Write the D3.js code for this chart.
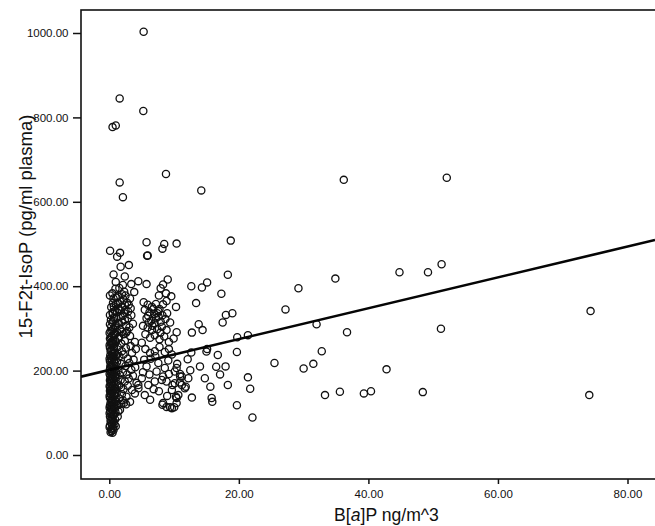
<!DOCTYPE html>
<meta charset="utf-8">
<title>B[a]P vs 15-F2t-IsoP</title>
<style>
    body {
        margin: 0;
        background: #fff;
    }

    svg {
        display: block;
        font-family: "Liberation Sans", Arial, sans-serif;
    }

    circle.pt {
        fill: none;
        stroke: #111;
        stroke-width: 1.3px;
    }

    .axis text {
        fill: #111;
        font-size: 11.5px;
    }

    .axis line {
        stroke: #111;
        stroke-width: 1.5px;
    }

    .title {
        fill: #111;
    }
</style>

<body>
    <svg width="655" height="526"></svg>

    <script src="https://d3js.org/d3.v7.min.js"></script>
    <script>
        // tick values
        const xTicks = [0, 20, 40, 60, 80];
        const yTicks = [0, 200, 400, 600, 800, 1000];

        // fitted regression line
        const fitIntercept = 201.5;
        const fitSlope = 3.656;

        // [B[a]P, 15-F2t-IsoP] pairs
        const outlierPts = [[5.3, 1003], [1.6, 845], [5.25, 815], [0.5, 777], [1.0, 781], [8.75, 666], [1.6, 646],
            [2.1, 611], [14.2, 627], [36.2, 652], [52.1, 657]];

        const farPts = [[29.2, 395], [27.2, 345], [34.9, 418], [44.8, 433], [49.2, 433], [51.3, 452], [74.3, 341],
            [51.2, 299], [32.0, 310], [36.7, 291], [25.5, 218], [30.0, 205], [31.5, 216], [32.8, 246], [42.8, 203],
            [33.3, 142], [35.6, 150], [39.3, 146], [40.4, 151], [48.4, 149], [74.1, 142]];

        const sparsePts = [[18.75, 508], [15.1, 409], [14.3, 397], [18.3, 427], [17.3, 382], [18.0, 332], [19.0, 336],
            [17.5, 314], [13.8, 310], [14.4, 296], [12.75, 290], [10.4, 291], [19.75, 279], [21.4, 284], [15.1, 251],
            [15.0, 245], [19.7, 244], [16.75, 237], [14.0, 210], [16.5, 209], [17.95, 210], [17.1, 191], [14.75, 182],
            [15.6, 162], [18.3, 166], [21.4, 184], [21.75, 157], [15.8, 135], [15.9, 126], [19.7, 118], [22.1, 89],
            [12.75, 136], [10.9, 172], [11.8, 162], [10.4, 135], [12.66, 400], [13.4, 360], [12.66, 243], [12.1, 227],
            [12.5, 201], [12.2, 182]];

        const clusterPts = [[5.75, 504], [8.48, 500], [8.2, 489], [10.39, 501], [5.84, 472], [5.93, 473], [8.3, 404],
            [9.02, 416], [7.93, 395], [8.75, 383], [9.57, 376], [8.84, 365], [8.3, 357], [10.3, 351], [7.66, 378],
            [5.3, 362], [5.93, 356], [6.57, 351], [7.2, 358], [7.75, 346], [5.48, 344], [6.2, 338], [6.93, 334],
            [7.57, 341], [8.2, 331], [8.93, 336], [5.75, 324], [6.48, 318], [7.2, 324], [7.93, 316], [8.66, 322],
            [9.39, 314], [5.2, 306], [5.93, 302], [6.66, 306], [7.39, 298], [8.11, 304], [8.84, 296], [5.02, 266],
            [5.57, 286], [6.3, 278], [7.02, 284], [7.75, 274], [8.48, 281], [9.2, 268], [9.93, 276], [6.3, 242],
            [7.02, 246], [9.66, 238], [5.57, 251], [7.75, 256], [8.57, 244], [9.2, 251], [5.75, 210], [7.57, 218],
            [8.57, 206], [10.11, 198], [10.93, 186], [6.39, 228], [7.11, 234], [9.11, 224], [10.48, 216], [5.2, 196],
            [6.2, 191], [7.3, 198], [8.3, 186], [9.2, 192], [4.48, 166], [6.02, 166], [7.02, 174], [8.11, 178],
            [10.11, 170], [11.2, 166], [11.66, 158], [9.66, 154], [10.66, 142], [8.3, 123], [8.84, 114], [9.66, 111],
            [10.39, 123], [6.3, 131], [8.93, 140], [10.3, 138], [8.2, 119], [9.39, 113], [10.02, 113], [5.48, 142],
            [8.84, 174], [9.75, 166], [10.93, 192], [11.2, 186], [10.39, 206], [5.02, 182], [6.84, 156], [7.66, 151],
            [5.39, 226], [6.0, 330], [6.8, 346], [7.4, 336], [6.1, 314], [7.0, 312], [7.6, 328], [6.6, 296], [7.9, 290]];

        const upperPts = [[0.66, 428], [2.39, 423], [3.39, 405], [4.48, 412], [5.75, 405], [1.75, 446], [3.02, 450],
            [0.12, 484], [1.66, 479], [1.21, 470], [0.48, 383], [0.3, 350], [0.57, 360], [0.39, 268], [1.0, 410]];

        const cloudPts = [[1.0, 268], [1.4, 276], [1.85, 264], [2.4, 271], [1.2, 291], [1.65, 298], [2.2, 286],
            [2.75, 294], [3.2, 282], [0.95, 306], [1.5, 311], [2.0, 316], [2.6, 306], [3.1, 302], [3.65, 311],
            [1.1, 324], [1.75, 328], [2.3, 336], [2.85, 324], [3.4, 331], [0.85, 341], [1.4, 346], [1.95, 351],
            [2.5, 344], [3.0, 356], [1.0, 358], [1.65, 364], [2.2, 368], [2.75, 361], [0.65, 371], [1.3, 376],
            [1.95, 381], [2.5, 378], [3.2, 371], [0.1, 378], [1.1, 373], [2.3, 387], [3.85, 386], [1.55, 396],
            [0.95, 394], [2.1, 403], [0.75, 251], [1.3, 256], [1.95, 246], [2.55, 254], [3.3, 258], [3.95, 268],
            [1.55, 234], [2.2, 238], [2.85, 228], [3.5, 242], [4.1, 251], [1.2, 221], [1.85, 216], [2.5, 211],
            [3.1, 218], [3.75, 226], [1.4, 201], [2.1, 196], [2.75, 191], [3.4, 202], [4.0, 208], [1.1, 184],
            [1.75, 178], [2.4, 174], [3.0, 181], [3.65, 188], [1.5, 164], [2.2, 156], [2.85, 164], [3.5, 154],
            [4.2, 171], [1.95, 144], [2.65, 138], [3.2, 126], [1.4, 103], [1.65, 107], [3.95, 146], [4.5, 158],
            [2.3, 124], [1.85, 121], [0.6, 318], [1.3, 312], [2.4, 320], [0.55, 334], [1.2, 338], [1.7, 342],
            [2.1, 330], [2.9, 340], [0.7, 352], [1.35, 360], [2.4, 356], [3.3, 348], [0.9, 287], [1.5, 280],
            [2.0, 292], [2.6, 290], [0.8, 232], [1.3, 240], [1.0, 198], [1.6, 190], [1.25, 168], [1.8, 160],
            [0.95, 146], [1.55, 134], [2.1, 130], [2.6, 120], [1.15, 116]];

        const columnPts = [[0.2, 54], [0.5, 53], [0.3, 61], [0.6, 64], [0.1, 70], [0.4, 74], [0.7, 78], [0.2, 82],
            [0.5, 86], [0.1, 91], [0.6, 94], [0.3, 98], [0.15, 103], [0.55, 106], [0.25, 110], [0.7, 113], [0.1, 117],
            [0.45, 120], [0.2, 124], [0.6, 127], [0.3, 131], [0.1, 135], [0.5, 138], [0.8, 141], [0.2, 144],
            [0.4, 148], [0.1, 152], [0.65, 154], [0.3, 157], [0.15, 161], [0.5, 164], [0.8, 167], [0.2, 170],
            [0.4, 174], [0.1, 177], [0.6, 180], [0.3, 184], [0.15, 187], [0.5, 190], [0.75, 193], [0.2, 196],
            [0.4, 199], [0.1, 203], [0.6, 206], [0.3, 209], [0.2, 213], [0.5, 216], [0.8, 219], [0.1, 222],
            [0.4, 226], [0.25, 229], [0.6, 232], [0.15, 236], [0.45, 239], [0.85, 242], [0.2, 246], [0.5, 250],
            [0.1, 254], [0.7, 257], [0.3, 261], [0.2, 266], [0.55, 270], [0.1, 276], [0.4, 282], [0.8, 287],
            [0.2, 293], [0.6, 298], [0.3, 304], [1.0, 68], [0.95, 101], [1.05, 126], [1.0, 156], [0.9, 184],
            [1.1, 211], [1.05, 236], [1.2, 121], [1.15, 146], [1.3, 91]];

        const columnPts2 = [[0.35, 57], [0.65, 59], [0.05, 66], [0.45, 69], [0.8, 72], [0.25, 77], [0.55, 81],
            [0.9, 84], [0.35, 89], [0.75, 96], [0.05, 99], [0.4, 108], [0.85, 110], [0.05, 112], [0.35, 116],
            [0.75, 122], [0.4, 128], [0.85, 131], [0.05, 140], [0.3, 142], [0.7, 146], [0.55, 150], [0.25, 152],
            [0.9, 159], [0.05, 163], [0.35, 166], [0.7, 172], [0.25, 178], [0.45, 182], [0.85, 188], [0.05, 192],
            [0.35, 194], [0.65, 199], [0.85, 204], [0.15, 208], [0.45, 211], [0.7, 223], [0.05, 228], [0.35, 234],
            [0.65, 241], [0.3, 248], [0.05, 260], [0.6, 262], [0.45, 264], [0.9, 272], [0.25, 279], [0.65, 284],
            [0.05, 289], [0.45, 295], [0.9, 302], [0.1, 310], [0.5, 314], [0.25, 320], [0.75, 326], [0.1, 332],
            [0.5, 338]];

        const points = [].concat(columnPts, columnPts2, cloudPts, upperPts, clusterPts, sparsePts, farPts, outlierPts);

        const svg = d3.select("svg");
        const W = 655, H = 526;

        // plot frame (right edge runs off the page like the scan)
        const frame = { left: 81, top: 10, bottom: 479, right: 700 };

        const x = d3.scaleLinear().domain([0, 80]).range([109.3, 627.5]);
        const y = d3.scaleLinear().domain([0, 1000]).range([455, 33]);

        svg.append("rect")
            .attr("width", W).attr("height", H)
            .attr("fill", "#fff");

        svg.append("defs").append("clipPath").attr("id", "plotClip")
            .append("rect")
            .attr("x", frame.left).attr("y", frame.top)
            .attr("width", frame.right - frame.left).attr("height", frame.bottom - frame.top);

        const plot = svg.append("g").attr("clip-path", "url(#plotClip)");

        plot.append("g")
            .selectAll("circle")
            .data(points)
            .join("circle")
            .attr("class", "pt")
            .attr("cx", d => x(d[0]))
            .attr("cy", d => y(d[1]))
            .attr("r", 3.6);

        // regression line across the whole frame
        const xLo = x.invert(frame.left), xHi = x.invert(W);
        plot.append("line")
            .attr("x1", x(xLo)).attr("y1", y(fitIntercept + fitSlope * xLo))
            .attr("x2", x(xHi)).attr("y2", y(fitIntercept + fitSlope * xHi))
            .attr("stroke", "#050505")
            .attr("stroke-width", 2.6);

        // frame
        svg.append("rect")
            .attr("x", frame.left).attr("y", frame.top)
            .attr("width", frame.right - frame.left).attr("height", frame.bottom - frame.top)
            .attr("fill", "none")
            .attr("stroke", "#111")
            .attr("stroke-width", 1.6);

        const fmt = d3.format(".2f");

        const yAxis = svg.append("g")
            .attr("class", "axis")
            .attr("transform", `translate(${frame.left},0)`)
            .call(d3.axisLeft(y).tickValues(yTicks).tickFormat(fmt).tickSize(8).tickSizeOuter(0).tickPadding(4.5));

        const xAxis = svg.append("g")
            .attr("class", "axis")
            .attr("transform", `translate(0,${frame.bottom})`)
            .call(d3.axisBottom(x).tickValues(xTicks).tickFormat(fmt).tickSize(5).tickSizeOuter(0).tickPadding(6));

        [yAxis, xAxis].forEach(g => {
            g.attr("font-size", null).attr("font-family", null);
            g.select(".domain").remove();
        });

        // axis titles
        svg.append("text")
            .attr("class", "title")
            .attr("x", 386.5).attr("y", 521)
            .attr("text-anchor", "middle")
            .attr("font-size", 17.6)
            .call(t => {
                t.append("tspan").text("B[");
                t.append("tspan").attr("font-style", "italic").text("a");
                t.append("tspan").text("]P ng/m^3");
            });

        svg.append("text")
            .attr("class", "title")
            .attr("transform", "translate(32,226.5) rotate(-90)")
            .attr("text-anchor", "middle")
            .attr("font-size", 18.5)
            .text("15-F2t-IsoP (pg/ml plasma)");
    </script>
</body>

</html>
